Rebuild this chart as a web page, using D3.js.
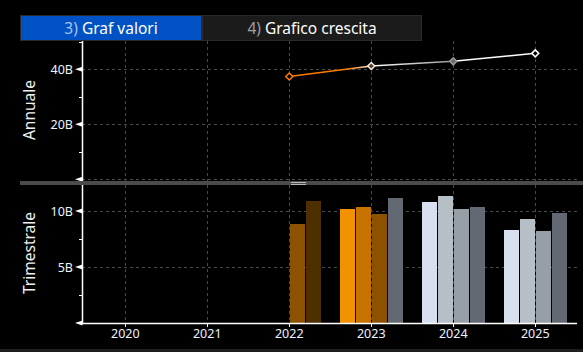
<!DOCTYPE html>
<html>
<head>
<meta charset="utf-8">
<script src="https://cdn.jsdelivr.net/npm/d3@7"></script>
<style>
  html, body { margin: 0; padding: 0; background: #000; }
  svg { display: block; font-family: "Noto Sans", "Open Sans", Arial, sans-serif; }
</style>
</head>
<body>
<script>
// annual values (billions)
const annualYears = [2022, 2023, 2024, 2025];
const annualValues = [37.4, 41.2, 42.9, 45.8];
const annualColors = ["#ff7a00", "#f4ece4", "#9a9a9a", "#ffffff"];

// quarterly values (billions)
const qYears = [2022, 2022, 2023, 2023, 2023, 2023, 2024, 2024, 2024, 2024, 2025, 2025, 2025, 2025];
const qQuarters = ["Q3", "Q4", "Q1", "Q2", "Q3", "Q4", "Q1", "Q2", "Q3", "Q4", "Q1", "Q2", "Q3", "Q4"];
const qValues = [8.85, 10.9, 10.2, 10.35, 9.75, 11.15, 10.8, 11.35, 10.2, 10.35, 8.3, 9.3, 8.2, 9.8];
const qEstimate = [false, false, false, false, false, true, true, true, true, true, true, true, true, true];

const actualColors = {Q1: "#f39200", Q2: "#c67300", Q3: "#8d5200", Q4: "#4e2f00"};
const estimateColors = {Q1: "#d8e0f0", Q2: "#b6bfc5", Q3: "#979fa6", Q4: "#636972"};

// tick labels
const xTickYears = [2020, 2021, 2022, 2023, 2024, 2025];
const topTicks = [0, 20, 40];
const topMinor = [10, 30, 50];
const bottomTicks = [0, 5, 10];
const bottomMinor = [2.5, 7.5];
const fmtB = d => d === 0 ? "" : d + "B";

const width = 583, height = 352;
const left = 82, right = 577;

const svg = d3.select("body").append("svg")
    .attr("width", width)
    .attr("height", height);

svg.append("rect").attr("width", width).attr("height", height).attr("fill", "#000");

// tabs
const tabs = [
  {num: "3)", label: " Graf valori", x0: 20, x1: 202, fill: "#0052c4", numColor: "#a9c2ec"},
  {num: "4)", label: " Grafico crescita", x0: 202, x1: 422, fill: "#1b1b1b", numColor: "#a0a0a0"}
];
tabs.forEach(t => {
  svg.append("rect")
      .attr("x", t.x0 + 0.5).attr("y", 15.5)
      .attr("width", t.x1 - t.x0 - 1).attr("height", 25)
      .attr("fill", t.fill)
      .attr("stroke", "#2a2a2a");
  const txt = svg.append("text")
      .attr("x", (t.x0 + t.x1) / 2).attr("y", 34)
      .attr("text-anchor", "middle")
      .style("font-size", "15.5px");
  txt.append("tspan").attr("fill", t.numColor).text(t.num);
  txt.append("tspan").attr("fill", "#ffffff").text(t.label);
});

// scales
const x = d3.scaleLinear().domain([2019.472, 2025.509]).range([left, right]);
const yTop = d3.scaleLinear().domain([0, 50]).range([179.3, 41.8]);
const yBot = d3.scaleLinear().domain([0, 12.5]).range([323, 183]);
const qBand = d3.scaleBand().domain(["Q1", "Q2", "Q3", "Q4"]).range([-31.5, 31.5]).paddingInner(0.0625);

const gridColor = "#4a4a4a";

// vertical grid
svg.selectAll(".vgrid")
  .data(xTickYears)
  .enter().append("line")
    .attr("x1", d => Math.round(x(d)) + 0.5).attr("x2", d => Math.round(x(d)) + 0.5)
    .attr("y1", 41).attr("y2", 323)
    .attr("stroke", gridColor)
    .attr("stroke-dasharray", "3,3");

// horizontal grid
svg.selectAll(".hgridTop")
  .data(topTicks)
  .enter().append("line")
    .attr("x1", left).attr("x2", right)
    .attr("y1", d => Math.round(yTop(d)) + 0.5).attr("y2", d => Math.round(yTop(d)) + 0.5)
    .attr("stroke", gridColor)
    .attr("stroke-dasharray", "3,3");

svg.selectAll(".hgridBot")
  .data(bottomTicks.filter(d => d > 0))
  .enter().append("line")
    .attr("x1", left).attr("x2", right)
    .attr("y1", d => Math.round(yBot(d)) + 0.5).attr("y2", d => Math.round(yBot(d)) + 0.5)
    .attr("stroke", gridColor)
    .attr("stroke-dasharray", "3,3");

// bars
const bars = qValues.map((v, i) => ({year: qYears[i], q: qQuarters[i], v: v, est: qEstimate[i]}));
svg.selectAll(".bar")
  .data(bars)
  .enter().append("rect")
    .attr("class", "bar")
    .attr("x", d => Math.round(x(d.year) + qBand(d.q)))
    .attr("width", Math.round(qBand.bandwidth()))
    .attr("y", d => Math.round(yBot(d.v)))
    .attr("height", d => Math.round(yBot(0) - yBot(d.v)))
    .attr("fill", d => d.est ? estimateColors[d.q] : actualColors[d.q]);

// annual line with gradient segments
const defs = svg.append("defs");
const pts = annualValues.map((v, i) => ({year: annualYears[i], v: v, c: annualColors[i]}));
for (let i = 0; i < pts.length - 1; i++) {
  const a = pts[i], b = pts[i + 1];
  const g = defs.append("linearGradient")
      .attr("id", "seg" + i)
      .attr("gradientUnits", "userSpaceOnUse")
      .attr("x1", x(a.year)).attr("y1", yTop(a.v))
      .attr("x2", x(b.year)).attr("y2", yTop(b.v));
  g.append("stop").attr("offset", "0%").attr("stop-color", a.c);
  g.append("stop").attr("offset", i === 0 ? "70%" : "0%").attr("stop-color", i === 0 ? a.c : (i === 1 ? "#ffffff" : b.c));
  g.append("stop").attr("offset", "100%").attr("stop-color", b.c);
  svg.append("line")
      .attr("x1", x(a.year)).attr("y1", yTop(a.v))
      .attr("x2", x(b.year)).attr("y2", yTop(b.v))
      .attr("stroke", "url(#seg" + i + ")")
      .attr("stroke-width", 1.5);
}

svg.selectAll(".marker")
  .data(pts)
  .enter().append("path")
    .attr("class", "marker")
    .attr("d", "M0,-3.5L3.5,0L0,3.5L-3.5,0Z")
    .attr("transform", d => "translate(" + x(d.year) + "," + yTop(d.v) + ")")
    .attr("fill", (d, i) => i === 2 ? "#6a6a6a" : (i === 1 ? "#5a3a20" : "#000"))
    .attr("stroke", d => d.c)
    .attr("stroke-width", 1.5);

// y axis line
svg.append("line")
    .attr("x1", left + 0.5).attr("x2", left + 0.5)
    .attr("y1", 41).attr("y2", 323.5)
    .attr("stroke", "#fff")
    .attr("stroke-width", 1.5);

// y ticks: triangles and minor lines
function drawYTicks(scale, major, minor) {
  svg.selectAll(null)
    .data(major)
    .enter().append("path")
      .attr("d", d => {
        const yy = scale(d);
        return "M" + (left + 0.5) + "," + (yy - 2.5) + "L" + (left - 7) + "," + yy + "L" + (left + 0.5) + "," + (yy + 2.5) + "Z";
      })
      .attr("fill", "#fff");
  svg.selectAll(null)
    .data(minor)
    .enter().append("line")
      .attr("x1", left - 3).attr("x2", left)
      .attr("y1", d => Math.round(scale(d)) + 0.5).attr("y2", d => Math.round(scale(d)) + 0.5)
      .attr("stroke", "#fff");
  svg.selectAll(null)
    .data(major.filter(d => d > 0))
    .enter().append("text")
      .attr("x", left - 9)
      .attr("y", d => scale(d) + 4.5)
      .attr("text-anchor", "end")
      .attr("fill", "#eef3ff")
      .style("font-size", "12.5px")
      .text(fmtB);
}
drawYTicks(yTop, topTicks, topMinor);
drawYTicks(yBot, bottomTicks, bottomMinor);

// x axis
svg.append("line")
    .attr("x1", left).attr("x2", right)
    .attr("y1", 323.5).attr("y2", 323.5)
    .attr("stroke", "#fff")
    .attr("stroke-width", 1.5);

svg.selectAll(".xtick")
  .data(xTickYears)
  .enter().append("line")
    .attr("x1", d => Math.round(x(d)) + 0.5).attr("x2", d => Math.round(x(d)) + 0.5)
    .attr("y1", 323).attr("y2", 327)
    .attr("stroke", "#fff");

svg.selectAll(".xlabel")
  .data(xTickYears)
  .enter().append("text")
    .attr("x", d => x(d))
    .attr("y", 338)
    .attr("text-anchor", "middle")
    .attr("fill", "#eef3ff")
    .style("font-size", "12.5px")
    .text(d => d);

// panel titles
svg.append("text")
    .attr("transform", "translate(35,110) rotate(-90)")
    .attr("text-anchor", "middle")
    .attr("fill", "#f0f0f0")
    .style("font-size", "15.5px")
    .text("Annuale");
svg.append("text")
    .attr("transform", "translate(35,253) rotate(-90)")
    .attr("text-anchor", "middle")
    .attr("fill", "#f0f0f0")
    .style("font-size", "15.5px")
    .text("Trimestrale");

// divider between panels
svg.append("rect")
    .attr("x", 20).attr("y", 181)
    .attr("width", width - 20).attr("height", 4)
    .attr("fill", "#4b4b4b");
[182, 184].forEach(yy => {
  svg.append("line")
      .attr("x1", 291).attr("x2", 306)
      .attr("y1", yy + 0.5).attr("y2", yy + 0.5)
      .attr("stroke", "#b8b8b8");
});

// bottom strip
svg.append("rect")
    .attr("x", 0).attr("y", 349)
    .attr("width", width).attr("height", 3)
    .attr("fill", "#1e1e1e");
</script>
</body>
</html>
